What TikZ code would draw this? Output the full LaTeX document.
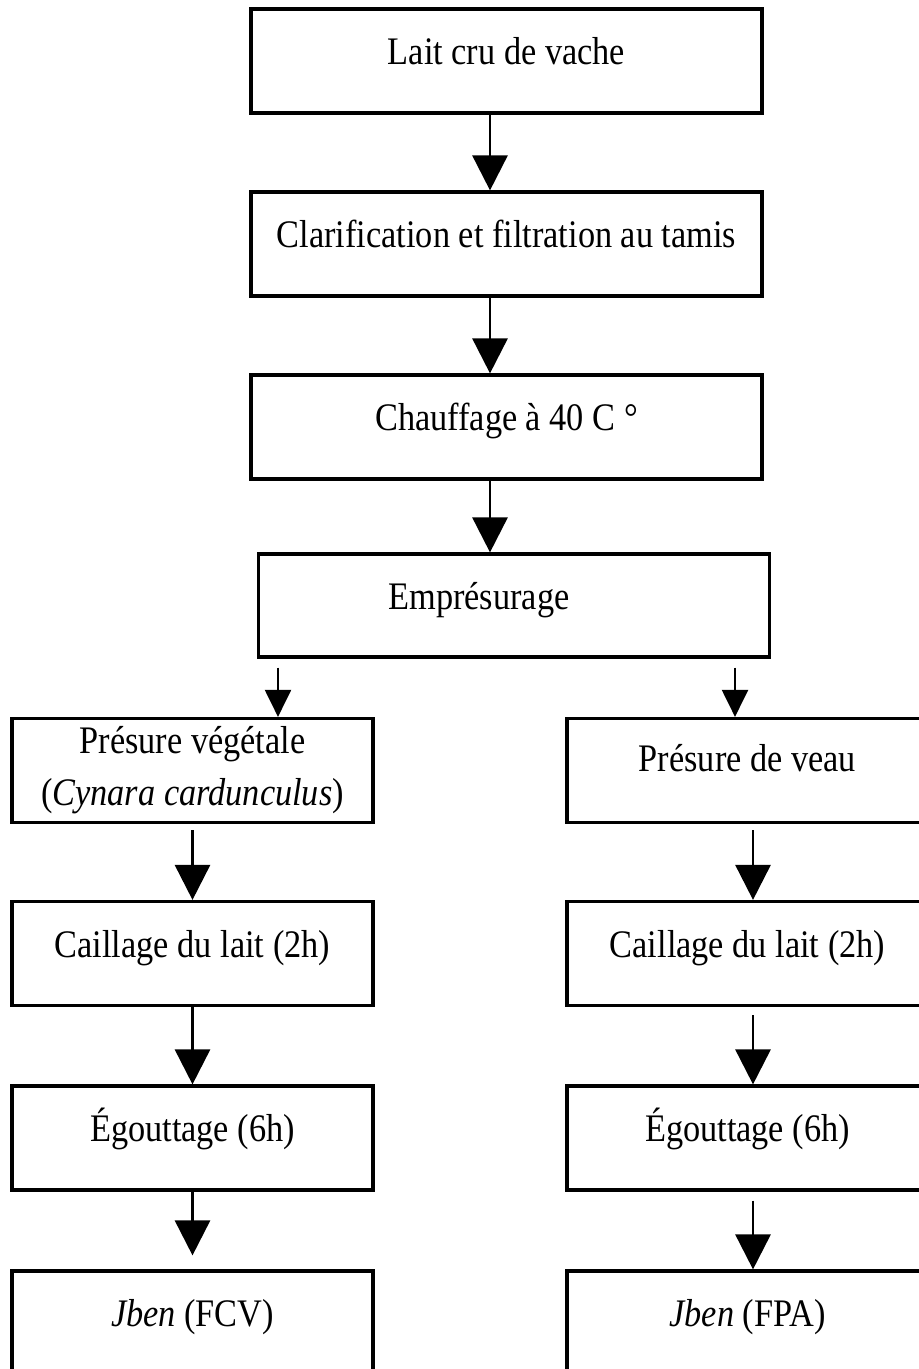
\documentclass[tikz,border=0pt]{standalone}
\usepackage{fontspec}
\setmainfont{Liberation Serif}[FakeStretch=0.88]
\usetikzlibrary{arrows.meta}

\begin{document}
\begin{tikzpicture}[x=0.5pt, y=-0.5pt,
    every node/.style={draw, line width=1.6pt, inner sep=0pt, minimum height=52pt,
      font=\fontsize{19.5}{20}\selectfont, text height=0.78em, text depth=0.42em},
    mainbox/.style={minimum width=255.5pt},
    colbox/.style={minimum width=180.5pt},
    bigarrow/.style={line width=1.4pt, -{Triangle[length=17.5pt, width=17.5pt]}},
    smallarrow/.style={line width=1.1pt, -{Triangle[length=13.5pt, width=13pt]}}]
    \useasboundingbox (0,0) rectangle (919,1369);
    \clip (0,0) rectangle (919,1369);

    % main line
    \node[mainbox] (lait) at (506.5, 61) {Lait cru de vache};
    \node[mainbox] (clar) at (506.5, 244) {Clarification et filtration au tamis};
    \node[mainbox] (chauf) at (506.5, 427) {Chauffage à 40 C °};
    \node[mainbox, minimum height=51.5pt] (empr) at (514, 605.5) {\hspace*{-35pt}Emprésurage};

    \draw[bigarrow] (490,0 |- lait.south) -- (490,0 |- clar.north);
    \draw[bigarrow] (490,0 |- clar.south) -- (490,0 |- chauf.north);
    \draw[bigarrow] (490,0 |- chauf.south) -- (490,0 |- empr.north);

    % left branch
    \node[colbox, align=center, text height={}, text depth={}] (veg) at (192.5, 770.5) {Présure végétale\\[6pt](\textit{Cynara cardunculus})};
    \node[colbox] (cail1) at (192.5, 953.5) {Caillage du lait (2h)};
    \node[colbox] (egou1) at (192.5, 1138) {Égouttage (6h)};
    \node[colbox] (fcv) at (192.5, 1323) {\textit{Jben} (FCV)};

    % right branch
    \node[colbox, text depth=0.7em] (veau) at (747.5, 770.5) {Présure de veau};
    \node[colbox] (cail2) at (747.5, 953.5) {Caillage du lait (2h)};
    \node[colbox] (egou2) at (747.5, 1138) {Égouttage (6h)};
    \node[colbox] (fpa) at (747.5, 1323) {\textit{Jben} (FPA)};

    \draw[smallarrow, shorten <=4.5pt] (278,0 |- empr.south) -- (278,0 |- veg.north);
    \draw[smallarrow, shorten <=4.5pt] (735,0 |- empr.south) -- (735,0 |- veau.north);

    \draw[bigarrow, shorten <=3pt] (veg) -- (cail1);
    \draw[bigarrow] (cail1) -- (egou1);
    \draw[bigarrow, shorten >=7pt] (egou1) -- (fcv);

    \draw[bigarrow, shorten <=3pt] ([xshift=2.75pt]veau.south) -- ([xshift=2.75pt]cail2.north);
    \draw[bigarrow, shorten <=4pt] ([xshift=2.75pt]cail2.south) -- ([xshift=2.75pt]egou2.north);
    \draw[bigarrow, shorten <=4.5pt] ([xshift=2.75pt]egou2.south) -- ([xshift=2.75pt]fpa.north);
\end{tikzpicture}
\end{document}
